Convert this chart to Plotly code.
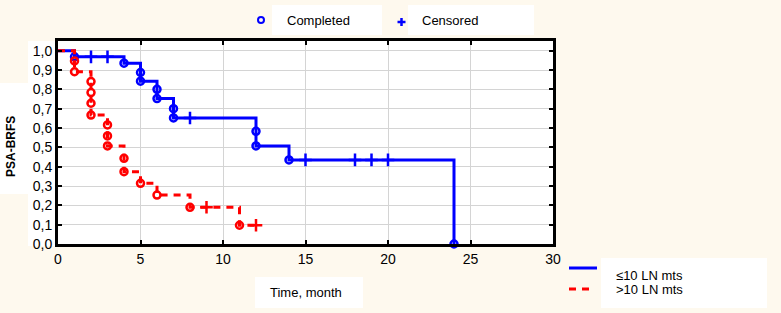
import plotly.graph_objects as go

# ---------------- data ----------------
# group "<=10 LN mts" (blue)
blue_step_t = [0, 1, 4, 5, 6, 7, 12, 14, 24]
blue_step_s = [1.0, 0.968, 0.935, 0.842, 0.752, 0.652, 0.507, 0.435, 0.0]
blue_event_t = [1, 4, 5, 5, 6, 6, 7, 7, 12, 12, 14, 24]
blue_event_s = [0.968, 0.935, 0.887, 0.842, 0.800, 0.752, 0.700, 0.652, 0.583, 0.507, 0.435, 0.0]
blue_cens_t = [2, 3, 8, 15, 18, 19, 20]
blue_cens_s = [0.968, 0.968, 0.652, 0.435, 0.435, 0.435, 0.435]

# group ">10 LN mts" (red)
red_step_t = [0, 1, 2, 3, 4, 5, 6, 8, 11, 12]
red_step_s = [1.0, 0.891, 0.667, 0.507, 0.374, 0.314, 0.253, 0.190, 0.097, 0.097]
red_event_t = [1, 1, 2, 2, 2, 2, 3, 3, 3, 4, 4, 5, 6, 8, 11]
red_event_s = [0.947, 0.891, 0.840, 0.783, 0.728, 0.667, 0.616, 0.559, 0.507,
               0.443, 0.374, 0.314, 0.253, 0.190, 0.097]
red_cens_t = [9, 12]
red_cens_s = [0.190, 0.097]

x_ticks = [0, 5, 10, 15, 20, 25, 30]
y_ticks = [0.0, 0.1, 0.2, 0.3, 0.4, 0.5, 0.6, 0.7, 0.8, 0.9, 1.0]

BLUE = "#0000FF"
RED = "#FF0000"
CREAM = "#FEF9EE"
FONT = "Arial, Liberation Sans, sans-serif"

W, H = 781, 313
L, R, T, B = 58, 553, 41, 244


def px(x):
    return (x - L) / (R - L)


def py(y):
    return (B - y) / (B - T)


fig = go.Figure()

# blue group
fig.add_trace(go.Scatter(x=blue_step_t, y=blue_step_s, mode="lines", line_shape="hv",
                         line=dict(color=BLUE, width=3), cliponaxis=False, hoverinfo="skip"))
fig.add_trace(go.Scatter(x=blue_event_t, y=blue_event_s, mode="markers", cliponaxis=False,
                         marker=dict(symbol="circle-open", size=7, color=BLUE,
                                     line=dict(color=BLUE, width=2.5))))
fig.add_trace(go.Scatter(x=blue_cens_t, y=blue_cens_s, mode="markers", cliponaxis=False,
                         marker=dict(symbol="cross-thin", size=9, color=BLUE,
                                     line=dict(color=BLUE, width=2.5))))

# red group
fig.add_trace(go.Scatter(x=red_step_t, y=red_step_s, mode="lines", line_shape="hv",
                         line=dict(color=RED, width=3, dash="7px,6px"), cliponaxis=False,
                         hoverinfo="skip"))
fig.add_trace(go.Scatter(x=red_event_t, y=red_event_s, mode="markers", cliponaxis=False,
                         marker=dict(symbol="circle-open", size=7, color=RED,
                                     line=dict(color=RED, width=2.5))))
fig.add_trace(go.Scatter(x=red_cens_t, y=red_cens_s, mode="markers", cliponaxis=False,
                         marker=dict(symbol="cross-thin", size=9, color=RED,
                                     line=dict(color=RED, width=2.5))))

shapes = []


def box(x0, y0, x1, y1):
    shapes.append(dict(type="rect", xref="paper", yref="paper", layer="below",
                       x0=px(x0), x1=px(x1), y0=py(y1), y1=py(y0),
                       fillcolor="white", line=dict(width=0)))


box(28, 41, 58, 246)      # tick-label area
box(0, 83, 28, 194)       # y title box
box(255, 277, 363, 308)   # x title box
box(272, 5, 382, 35)      # "Completed" box
box(408, 5, 534, 35)      # "Censored" box
box(601, 258, 767, 308)   # bottom legend box

# top legend symbols
shapes.append(dict(type="circle", xref="paper", yref="paper", layer="above",
                   x0=px(258), x1=px(264), y0=py(23), y1=py(17),
                   line=dict(color=BLUE, width=2)))
shapes.append(dict(type="line", xref="paper", yref="paper", layer="above",
                   x0=px(397.5), x1=px(405.5), y0=py(22), y1=py(22), line=dict(color=BLUE, width=2.5)))
shapes.append(dict(type="line", xref="paper", yref="paper", layer="above",
                   x0=px(401.5), x1=px(401.5), y0=py(18), y1=py(26), line=dict(color=BLUE, width=2.5)))
# bottom legend lines
shapes.append(dict(type="line", xref="paper", yref="paper", layer="above",
                   x0=px(569), x1=px(597), y0=py(268), y1=py(268), line=dict(color=BLUE, width=3)))
shapes.append(dict(type="line", xref="paper", yref="paper", layer="above",
                   x0=px(569), x1=px(591), y0=py(289), y1=py(289),
                   line=dict(color=RED, width=3, dash="7px,6px")))

annotations = [
    dict(text="<b>PSA-BRFS</b>", x=px(11), y=py(147), textangle=-90,
         font=dict(size=12, color="black", family=FONT)),
    dict(text="Time, month", x=px(306), y=py(292), font=dict(size=13, color="black", family=FONT)),
    dict(text="Completed", x=px(285), y=py(20), xanchor="left",
         font=dict(size=13, color="black", family=FONT)),
    dict(text="Censored", x=px(420), y=py(20), xanchor="left",
         font=dict(size=13, color="black", family=FONT)),
    dict(text="≤10 LN mts", x=px(614), y=py(275), xanchor="left",
         font=dict(size=13, color="black", family=FONT)),
    dict(text=">10 LN mts", x=px(614), y=py(289), xanchor="left",
         font=dict(size=13, color="black", family=FONT)),
]
for a in annotations:
    a.update(xref="paper", yref="paper", showarrow=False, yanchor="middle")
    a.setdefault("xanchor", "center")

fig.update_layout(
    width=W, height=H,
    margin=dict(l=L, r=W - R, t=T, b=H - B, pad=0),
    paper_bgcolor=CREAM, plot_bgcolor="white",
    showlegend=False, separators=", ",
    font=dict(family=FONT, size=13, color="black"),
    shapes=shapes, annotations=annotations,
    xaxis=dict(range=[0, 30], tickvals=x_ticks, showgrid=True, gridcolor="#D4D4D4", gridwidth=1,
               zeroline=False, showline=True, linecolor="black", linewidth=3, mirror="ticks",
               ticks="inside", ticklen=4, tickwidth=2, tickcolor="black",
               tickfont=dict(size=14, color="black", family=FONT)),
    yaxis=dict(range=[0, 1.05], tickvals=y_ticks, tickformat=".1f", showgrid=True,
               gridcolor="#D4D4D4", gridwidth=1, zeroline=False, showline=True,
               linecolor="black", linewidth=3, mirror="ticks",
               ticks="inside", ticklen=4, tickwidth=2, tickcolor="black",
               tickfont=dict(size=14, color="black", family=FONT)),
)

fig.write_html("out.html")
